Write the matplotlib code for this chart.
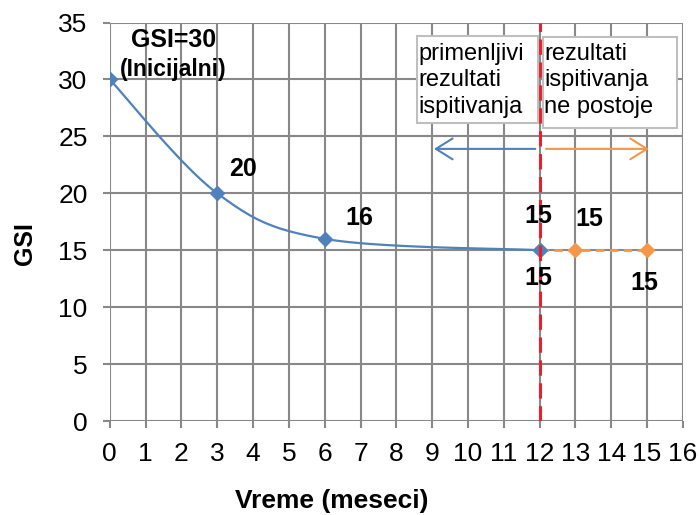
import numpy as np
import matplotlib
matplotlib.use("Agg")
import matplotlib.pyplot as plt
from matplotlib.patches import Rectangle, FancyArrowPatch

plt.rcParams['font.family'] = ['Liberation Sans', 'DejaVu Sans']

# Measured GSI over time (months)
months_measured = [0, 3, 6, 12]
gsi_measured = [30, 20, 16, 15]
# Assumed values beyond available test results
months_assumed = [12, 13, 15]
gsi_assumed = [15, 15, 15]

x_ticks = list(range(0, 17))
y_ticks = list(range(0, 36, 5))

BLUE = '#4F81BD'
ORANGE = '#F79646'
GRID = '#888888'


def smooth_curve(xs, ys, n=40):
    """Bezier smoothing through points (spreadsheet-style smoothed line)."""
    pts = np.column_stack([xs, ys]).astype(float)
    out = []
    for i in range(len(pts) - 1):
        p0 = pts[i - 1] if i > 0 else pts[i]
        p1 = pts[i]
        p2 = pts[i + 1]
        p3 = pts[i + 2] if i + 2 < len(pts) else pts[i + 1]
        c1 = p1 + (p2 - p0) / 6.0
        c2 = p2 - (p3 - p1) / 6.0
        t = np.linspace(0, 1, n)[:, None]
        seg = ((1 - t) ** 3) * p1 + 3 * ((1 - t) ** 2) * t * c1 + 3 * (1 - t) * t ** 2 * c2 + t ** 3 * p2
        out.append(seg if i == 0 else seg[1:])
    seg = np.vstack(out)
    return seg[:, 0], seg[:, 1]


fig = plt.figure(figsize=(6.99, 5.15), dpi=100)
ax = fig.add_axes([0.157, 0.1825, 0.820, 0.7738])

ax.set_xlim(0, 16)
ax.set_ylim(0, 35)
ax.set_xticks(x_ticks)
ax.set_yticks(y_ticks)
ax.grid(True, color=GRID, linewidth=1.5, zorder=0)
for s in ax.spines.values():
    s.set_visible(False)
ax.tick_params(axis='both', direction='out', length=5, width=1.5, color=GRID,
               labelsize=19)
ax.tick_params(axis='x', pad=10)
ax.tick_params(axis='y', pad=11)
ax.set_axisbelow(True)

# Orange dashed continuation
ax.plot(months_assumed, gsi_assumed, color=ORANGE, linestyle=(0, (3, 2)), linewidth=2,
        marker='D', markersize=7.5, zorder=3)

# Blue smoothed series
sx, sy = smooth_curve(months_measured, gsi_measured)
ax.plot(sx, sy, color=BLUE, linewidth=1.6, zorder=4)
ax.plot(months_measured, gsi_measured, linestyle='none', marker='D', markersize=7.5,
        color=BLUE, zorder=5)

# Boundary of available results
ax.axvline(12, color='#E8202A', linestyle=(0, (5, 2.5)), linewidth=2.2, zorder=6)

# Text boxes
ax.add_patch(Rectangle((8.58, 26.2), 3.37, 7.6, facecolor='white', edgecolor='#BFBFBF',
                       linewidth=1.5, zorder=7))
ax.add_patch(Rectangle((12.09, 25.7), 3.74, 8.0, facecolor='white', edgecolor='#BFBFBF',
                       linewidth=1.5, zorder=7))
ax.text(8.62, 33.2, 'primenljivi\nrezultati\nispitivanja', ha='left', va='top',
        fontsize=17, linespacing=1.26, zorder=8)
ax.text(12.13, 33.2, 'rezultati\nispitivanja\nne postoje', ha='left', va='top',
        fontsize=17, linespacing=1.26, zorder=8)

# Arrows
ax.add_patch(FancyArrowPatch((11.88, 23.9), (9.05, 23.9),
                             arrowstyle='->,head_length=12,head_width=7.5',
                             color=BLUE, linewidth=1.5, zorder=8, mutation_scale=1,
                             shrinkA=0, shrinkB=0))
ax.add_patch(FancyArrowPatch((12.18, 23.9), (15.05, 23.9),
                             arrowstyle='->,head_length=12,head_width=7.5',
                             color=ORANGE, linewidth=1.5, zorder=8, mutation_scale=1,
                             shrinkA=0, shrinkB=0))

# Value labels
lbl = dict(fontsize=18, fontweight='bold', ha='center', va='center', zorder=9)
ax.text(1.79, 33.5, 'GSI=30', **lbl)
ax.text(1.77, 30.9, '(Inicijalni)', fontsize=16.5, fontweight='bold', ha='center',
        va='center', zorder=9)
ax.text(3.72, 22.1, str(gsi_measured[1]), **lbl)
ax.text(6.96, 17.8, str(gsi_measured[2]), **lbl)
ax.text(11.96, 18.0, str(gsi_measured[3]), **lbl)
ax.text(11.96, 12.6, str(gsi_assumed[0]), **lbl)
ax.text(13.38, 17.7, str(gsi_assumed[1]), **lbl)
ax.text(14.92, 12.1, str(gsi_assumed[2]), **lbl)

ax.set_xlabel('Vreme (meseci)', fontsize=19, fontweight='bold')
ax.xaxis.set_label_coords(0.387, -0.170)
ax.set_ylabel('GSI', fontsize=18, fontweight='bold')
ax.yaxis.set_label_coords(-0.147, 0.446)
ax.yaxis.label.set_verticalalignment('center')

fig.savefig('out.png', dpi=100)
